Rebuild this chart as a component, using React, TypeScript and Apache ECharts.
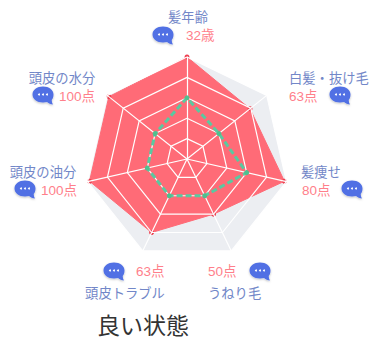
import React, { useEffect, useRef } from "react";
import * as echarts from "echarts";

// Order follows the radar's anticlockwise indicator order, starting at the top.
const categories = ["髪年齢", "頭皮の水分", "頭皮の油分", "頭皮トラブル", "うねり毛", "髪痩せ", "白髪・抜け毛"];
const scoreLabels = ["32歳", "100点", "100点", "63点", "50点", "80点", "63点"];
const currentValues = [100, 98, 98, 80, 60, 98, 79];
const idealValues = [60, 40, 40, 40, 40, 60, 40];
const chartTitle = "良い状態";

// [name x, name y, name align, score x, score y, score align, bubble x, bubble y]
const labelLayout: [number, number, string, number, number, string, number, number][] = [
  [188, 17.5, "center", 186, 35, "left", 163, 35],
  [62, 78, "center", 59, 96, "left", 43, 95],
  [43, 172, "center", 41, 190, "left", 25, 189],
  [125, 293, "center", 136, 271, "left", 114, 271],
  [208, 293, "left", 208, 271, "left", 260, 271],
  [301, 172, "left", 302, 190, "left", 352, 189],
  [289, 78, "left", 289, 96, "left", 340, 95],
];

const bubblePath =
  "M10.5 0 C16.5 0 21 3.4 21 8 C21 10.5 20.3 12.3 19.2 13.5 C19.2 15 19.6 16.5 20.4 18 C18.2 17.8 16.2 16.9 14.6 15.5 C13.4 15.8 12 16 10.5 16 C4.5 16 0 12.6 0 8 C0 3.4 4.5 0 10.5 0 Z";
echarts.graphic.registerShape("chatBubble", echarts.graphic.extendPath(bubblePath as any, {}) as any);

const FONT = '"Liberation Sans", "Noto Sans CJK JP", sans-serif';
const NAME_COLOR = "#7287c8";
const SCORE_COLOR = "#ff7f8b";

export default function App() {
  const ref = useRef<HTMLDivElement>(null);
  useEffect(() => {
    const chart = echarts.init(ref.current!, undefined, { renderer: "svg" });
    const indicator = categories.map((name) => ({ name, max: 100, min: 0 }));
    const center = [187, 159];
    const radius = 102;
    const graphics: any[] = [];
    categories.forEach((name, i) => {
      const [nx, ny, na, sx, sy, sa, bx, by] = labelLayout[i];
      graphics.push({
        type: "text", x: nx, y: ny, z: 10,
        style: { text: name, fill: NAME_COLOR, font: `13.3px ${FONT}`, align: na, verticalAlign: "middle" },
      });
      graphics.push({
        type: "text", x: sx, y: sy, z: 10,
        style: { text: scoreLabels[i], fill: SCORE_COLOR, font: `13.5px ${FONT}`, align: sa, verticalAlign: "middle" },
      });
      graphics.push({
        type: "chatBubble", x: bx - 10.5, y: by - 8.5, z: 10,
        style: { fill: "#5170e4", shadowBlur: 2, shadowColor: "rgba(0,0,0,0.25)", shadowOffsetY: 1 },
      });
      [-4, 0, 4].forEach((dx) =>
        graphics.push({
          type: "circle", z: 11,
          shape: { cx: bx + dx, cy: by - 0.5, r: 1 },
          style: { fill: "#ffffff" },
        })
      );
    });
    graphics.push({
      type: "text", x: 97, y: 325.5, z: 10,
      style: { text: chartTitle, fill: "#333333", font: `23px ${FONT}`, align: "left", verticalAlign: "middle" },
    });
    chart.setOption({
      animation: false,
      radar: [
        {
          center, radius, indicator, splitNumber: 5, z: 0,
          axisName: { show: false },
          axisLine: { show: false },
          splitLine: { show: false },
          axisTick: { show: false },
          splitArea: { show: true, areaStyle: { color: ["#eceef2"], opacity: 1 } },
        },
        {
          center, radius, indicator, splitNumber: 5, z: 3,
          axisName: { show: false },
          axisLine: { show: true, lineStyle: { color: "#ffffff", width: 1.2 } },
          splitLine: { show: true, lineStyle: { color: "#ffffff", width: 1.2 } },
          axisTick: { show: false },
          splitArea: { show: false },
        },
      ],
      series: [
        {
          type: "radar", radarIndex: 0, z: 2,
          symbol: "circle", symbolSize: 5,
          itemStyle: { color: "#ee3f50" },
          lineStyle: { color: "#ff6b77", width: 1 },
          areaStyle: { color: "#ff6b77", opacity: 1 },
          data: [{ name: "現在", value: currentValues }],
        },
        {
          type: "radar", radarIndex: 1, z: 5,
          symbol: "circle", symbolSize: 5,
          itemStyle: { color: "#4fc08f" },
          lineStyle: { color: "#5ac9a0", width: 3, type: [6, 3] },
          data: [{ name: "理想", value: idealValues }],
        },
      ],
      graphic: graphics,
    });
    return () => chart.dispose();
  }, []);
  return <div ref={ref} style={{ position: "absolute", left: 0, top: 0, width: 370, height: 339 }} />;
}
